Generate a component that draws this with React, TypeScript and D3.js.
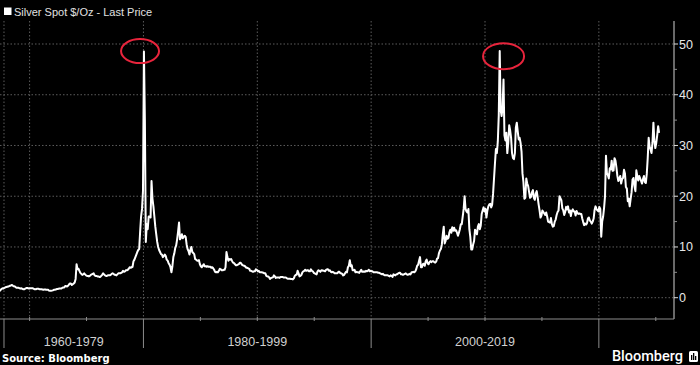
import React, { useEffect, useRef } from 'react';
import * as d3 from 'd3';

// monthly silver spot, $/oz. first block starts May 1967, the rest start in January
const price1960s = [
  1.29, 1.55, 1.75, 1.85, 1.8, 1.95, 2.05, 2.1,
  2.15, 2.2, 2.3, 2.35, 2.45, 2.5, 2.35, 2.25, 2.2, 2.05, 1.95, 1.95,
  1.95, 1.85, 1.8, 1.85, 1.75, 1.65, 1.65, 1.8, 1.9, 1.9, 1.85, 1.8,
];
const price1970s = [
  1.85, 1.85, 1.85, 1.85, 1.75, 1.65, 1.65, 1.75, 1.75, 1.75, 1.65, 1.65,
  1.65, 1.6, 1.55, 1.6, 1.6, 1.55, 1.55, 1.55, 1.4, 1.35, 1.35, 1.4,
  1.45, 1.55, 1.55, 1.6, 1.7, 1.7, 1.75, 1.8, 1.8, 1.8, 1.95, 2.0,
  2.0, 2.3, 2.3, 2.2, 2.35, 2.6, 2.8, 2.8, 2.5, 2.65, 2.8, 3.0,
  3.7, 6.6, 5.6, 5.7, 5.3, 4.9, 4.7, 4.5, 4.6, 4.8, 4.6, 4.4,
  4.3, 4.3, 4.2, 4.3, 4.5, 4.6, 4.7, 4.8, 4.4, 4.3, 4.3, 4.2,
  4.2, 4.1, 4.1, 4.3, 4.5, 4.8, 4.6, 4.4, 4.3, 4.3, 4.4, 4.4,
  4.4, 4.5, 4.7, 4.8, 4.7, 4.5, 4.5, 4.4, 4.6, 4.8, 4.8, 4.8,
  4.9, 5.0, 5.3, 5.1, 5.2, 5.4, 5.4, 5.5, 5.7, 6.0, 5.9, 6.0,
  6.1, 7.2, 7.5, 8.0, 8.5, 9.0, 9.4, 9.6, 13.0, 16.0, 17.5, 21.0,
];
const price1980s = [
  48.5, 35.0, 11.0, 14.5, 13.5, 16.0, 16.0, 15.8, 23.0, 19.5, 18.0, 16.0,
  14.0, 12.5, 11.0, 10.0, 9.4, 9.0, 8.6, 8.5, 8.0, 8.2, 8.5, 8.2,
  7.5, 7.3, 6.8, 6.5, 6.0, 5.0, 6.2, 8.0, 8.7, 9.8, 10.3, 11.5,
  13.0, 14.8, 11.5, 11.8, 12.5, 11.7, 12.0, 12.2, 12.0, 10.5, 9.6, 9.2,
  8.5, 9.5, 10.0, 9.0, 8.8, 8.6, 7.6, 7.5, 7.3, 7.3, 7.4, 6.6,
  6.2, 6.0, 6.3, 6.6, 6.2, 6.2, 6.1, 6.2, 6.1, 6.1, 6.1, 5.9,
  6.0, 5.8, 5.5, 5.1, 5.0, 5.1, 5.0, 5.3, 5.7, 5.6, 5.4, 5.4,
  5.5, 5.5, 6.0, 9.0, 8.0, 7.3, 7.6, 7.5, 7.6, 7.2, 6.9, 6.8,
  6.6, 6.4, 6.4, 6.5, 6.6, 6.9, 6.9, 6.6, 6.4, 6.3, 6.3, 6.1,
  5.9, 5.9, 5.8, 5.7, 5.3, 5.3, 5.2, 5.1, 5.2, 5.2, 5.6, 5.5,
];
const price1990s = [
  5.2, 5.3, 5.0, 5.0, 5.0, 4.95, 4.9, 4.8, 4.8, 4.3, 4.2, 4.2,
  4.0, 3.7, 3.9, 3.95, 4.0, 4.4, 4.2, 3.9, 4.0, 4.0, 4.0, 3.9,
  4.1, 4.1, 4.1, 4.0, 4.0, 4.0, 3.95, 3.8, 3.75, 3.75, 3.75, 3.7,
  3.7, 3.6, 3.8, 4.3, 4.5, 4.5, 5.3, 4.8, 4.2, 4.3, 4.5, 5.0,
  5.2, 5.3, 5.5, 5.3, 5.4, 5.4, 5.2, 5.2, 5.6, 5.3, 5.2, 4.9,
  4.8, 4.7, 4.6, 5.2, 5.4, 5.3, 5.1, 5.4, 5.4, 5.3, 5.3, 5.2,
  5.5, 5.6, 5.6, 5.3, 5.4, 5.1, 5.0, 5.1, 5.0, 4.8, 4.8, 4.8,
  4.8, 5.1, 5.1, 4.8, 4.8, 4.7, 4.4, 4.5, 4.8, 5.1, 5.0, 6.0,
  6.3, 7.4, 6.2, 6.4, 5.4, 5.4, 5.5, 5.0, 5.1, 5.0, 5.0, 4.9,
  5.2, 5.5, 5.1, 5.1, 5.2, 5.1, 5.3, 5.2, 5.3, 5.5, 5.2, 5.3,
];
const price2000s = [
  5.2, 5.2, 5.0, 5.0, 5.0, 5.0, 5.0, 4.9, 4.9, 4.8, 4.7, 4.6,
  4.7, 4.5, 4.4, 4.4, 4.4, 4.4, 4.3, 4.2, 4.4, 4.3, 4.1, 4.6,
  4.5, 4.4, 4.6, 4.6, 4.8, 4.9, 4.9, 4.6, 4.6, 4.5, 4.6, 4.7,
  4.8, 4.6, 4.5, 4.6, 4.7, 4.6, 5.0, 5.0, 5.1, 5.0, 5.2, 5.6,
  6.3, 6.5, 7.3, 8.0, 6.0, 6.0, 6.6, 6.7, 6.3, 7.2, 7.5, 6.8,
  6.6, 7.0, 7.2, 7.0, 7.2, 7.2, 7.0, 6.9, 7.1, 7.7, 7.8, 8.8,
  9.3, 9.6, 10.5, 12.5, 14.0, 10.7, 11.2, 12.2, 11.6, 11.8, 12.9, 13.4,
  12.8, 13.9, 13.2, 13.8, 13.2, 13.3, 12.8, 12.2, 12.8, 13.5, 14.5, 14.5,
  16.0, 17.5, 20.0, 17.5, 17.0, 16.8, 17.5, 13.5, 12.0, 9.5, 9.5, 10.5,
  11.2, 13.4, 13.0, 12.5, 14.0, 14.5, 13.5, 14.2, 16.5, 17.2, 17.8, 17.0,
];
const price2010s = [
  17.5, 15.8, 17.2, 18.0, 18.4, 18.5, 17.8, 18.3, 20.5, 23.5, 26.5, 29.3,
  28.5, 30.8, 35.9, 48.6, 37.0, 35.8, 37.5, 43.0, 32.0, 31.0, 32.5, 28.5,
  30.5, 34.0, 33.0, 31.5, 28.5, 27.5, 27.3, 28.5, 33.5, 34.5, 32.8, 31.2,
  31.5, 30.5, 28.8, 24.5, 22.8, 19.5, 19.7, 23.5, 22.5, 22.0, 20.8, 19.7,
  19.9, 20.8, 21.2, 19.7, 19.3, 20.5, 21.0, 19.8, 18.4, 17.2, 15.8, 16.2,
  17.2, 16.9, 16.6, 16.3, 16.8, 16.0, 15.0, 14.9, 14.8, 15.7, 14.5, 14.0,
  14.1, 15.0, 15.4, 16.3, 16.9, 17.2, 20.0, 19.6, 19.2, 17.6, 17.2, 16.3,
  16.9, 17.9, 17.4, 18.0, 16.8, 17.2, 16.1, 17.1, 17.4, 17.0, 17.0, 16.2,
  17.1, 16.6, 16.5, 16.6, 16.5, 16.5, 15.6, 14.9, 14.3, 14.6, 14.4, 14.7,
  15.6, 15.8, 15.2, 15.0, 14.6, 15.0, 15.6, 17.3, 18.0, 17.5, 17.2, 17.0,
];
const price2020s = [
  17.9, 17.5, 12.0, 15.0, 16.0, 17.7, 20.0, 28.0, 24.5, 24.2, 23.5, 25.5,
  25.3, 27.0, 25.0, 25.1, 27.5, 27.0, 25.7, 24.0, 23.0, 23.4, 24.0, 22.5,
  23.4, 23.6, 25.2, 24.5, 21.8, 21.5, 19.0, 19.5, 18.0, 19.5, 20.8, 23.3,
  23.6, 22.0, 21.0, 25.1, 24.0, 23.1, 24.0, 23.5, 23.0, 22.5, 23.4, 24.0,
  22.8, 22.6, 24.4, 27.5, 31.5, 29.8, 29.2, 28.5, 30.5, 34.5, 31.0, 29.5,
  30.5, 32.0, 33.8, 32.5,
];
const blockStarts = [1967 + 4 / 12, 1970, 1980, 1990, 2000, 2010, 2020];

const seriesLabel = 'Silver Spot $/Oz - Last Price';
const periodLabels = ['1960-1979', '1980-1999', '2000-2019'];
const periodBreaks = [1967.75, 1980, 2000, 2020];
const gridYears = [1970, 1980, 1990, 2000, 2010, 2020];
const minorYears = [1970, 1975, 1985, 1990, 1995, 2005, 2010, 2015, 2025];
const yTicks = [0, 10, 20, 30, 40, 50];
const yMinorTicks = [5, 15, 25, 35, 45];
// the two circled highs (year, price)
const circled = [
  [1979.7, 48.6],
  [2011.63, 47.6],
];

interface Point {
  t: number;
  v: number;
}

const App: React.FC = () => {
  const svgRef = useRef<SVGSVGElement>(null);

  useEffect(() => {
    const svg = d3.select(svgRef.current!);
    svg.selectAll('*').remove();

    const width = 700;
    const height = 365;
    const axisX = 674;
    const axisY = 319;
    const plotTop = 21;

    const x = d3.scaleLinear().domain([1967.4, 2026.6]).range([0, axisX]);
    const y = d3.scaleLinear().domain([0, 50]).range([297.7, 44]);

    const blocks = [price1960s, price1970s, price1980s, price1990s, price2000s, price2010s, price2020s];
    const data: Point[] = [];
    blocks.forEach((arr, b) => {
      arr.forEach((v, i) => data.push({ t: blockStarts[b] + (i + 0.5) / 12, v }));
    });

    svg.append('rect').attr('width', width).attr('height', height).attr('fill', '#000');

    // gridlines
    const grid = svg.append('g').attr('stroke', '#5c5c5c').attr('stroke-dasharray', '1.5,2');
    grid
      .selectAll('.hgrid')
      .data(yTicks)
      .enter()
      .append('line')
      .attr('x1', 0)
      .attr('x2', axisX)
      .attr('y1', (d) => y(d))
      .attr('y2', (d) => y(d));
    grid
      .selectAll('.vgrid')
      .data([periodBreaks[0], ...gridYears])
      .enter()
      .append('line')
      .attr('x1', (d) => x(d))
      .attr('x2', (d) => x(d))
      .attr('y1', plotTop)
      .attr('y2', axisY);

    // price line
    const line = d3
      .line<Point>()
      .x((d) => x(d.t))
      .y((d) => y(d.v));
    svg
      .append('path')
      .datum(data)
      .attr('d', line)
      .attr('fill', 'none')
      .attr('stroke', '#fff')
      .attr('stroke-width', 2)
      .attr('stroke-linejoin', 'round');

    // circled highs
    svg
      .selectAll('.ring')
      .data(circled)
      .enter()
      .append('ellipse')
      .attr('cx', (d) => x(d[0]))
      .attr('cy', (d) => y(d[1]))
      .attr('rx', (d, i) => (i === 0 ? 19 : 20.5))
      .attr('ry', (d, i) => (i === 0 ? 12 : 13))
      .attr('fill', 'none')
      .attr('stroke', '#e8243c')
      .attr('stroke-width', 2);

    // right axis
    const axisColor = '#8c8c8c';
    svg
      .append('line')
      .attr('x1', axisX)
      .attr('x2', axisX)
      .attr('y1', plotTop)
      .attr('y2', axisY)
      .attr('stroke', axisColor)
      .attr('stroke-width', 1.5);
    svg
      .selectAll('.ytick')
      .data(yTicks)
      .enter()
      .append('line')
      .attr('x1', axisX)
      .attr('x2', axisX + 4)
      .attr('y1', (d) => y(d))
      .attr('y2', (d) => y(d))
      .attr('stroke', '#ddd');
    svg
      .selectAll('.yminor')
      .data(yMinorTicks)
      .enter()
      .append('line')
      .attr('x1', axisX)
      .attr('x2', axisX + 3)
      .attr('y1', (d) => y(d))
      .attr('y2', (d) => y(d))
      .attr('stroke', axisColor);
    svg
      .selectAll('.ylabel')
      .data(yTicks)
      .enter()
      .append('text')
      .attr('x', axisX + 5)
      .attr('y', (d) => y(d))
      .attr('dy', '0.36em')
      .attr('fill', '#e8e8e8')
      .attr('font-family', 'Liberation Sans, Arial, sans-serif')
      .attr('font-size', 12.5)
      .text((d) => d);

    // bottom axis
    svg
      .append('line')
      .attr('x1', 0)
      .attr('x2', axisX)
      .attr('y1', axisY)
      .attr('y2', axisY)
      .attr('stroke', axisColor);
    svg
      .selectAll('.xminor')
      .data(minorYears)
      .enter()
      .append('line')
      .attr('x1', (d) => x(d))
      .attr('x2', (d) => x(d))
      .attr('y1', axisY - 2)
      .attr('y2', axisY + 2)
      .attr('stroke', axisColor);
    svg
      .selectAll('.sep')
      .data(periodBreaks)
      .enter()
      .append('line')
      .attr('x1', (d) => x(d))
      .attr('x2', (d) => x(d))
      .attr('y1', axisY)
      .attr('y2', 348)
      .attr('stroke', axisColor);
    svg
      .selectAll('.period')
      .data(periodLabels)
      .enter()
      .append('text')
      .attr('x', (d, i) => (x(periodBreaks[i]) + x(periodBreaks[i + 1])) / 2)
      .attr('y', 346)
      .attr('text-anchor', 'middle')
      .attr('fill', '#d0d0d0')
      .attr('font-family', 'Liberation Sans, Arial, sans-serif')
      .attr('font-size', 12.5)
      .text((d) => d);

    // legend
    svg.append('rect').attr('x', 4).attr('y', 7.5).attr('width', 7.5).attr('height', 7.5).attr('fill', '#fff');
    svg
      .append('text')
      .attr('x', 14)
      .attr('y', 15.5)
      .attr('fill', '#e0e0e0')
      .attr('font-family', 'Liberation Sans, Arial, sans-serif')
      .attr('font-size', 11)
      .text(seriesLabel);

    // footer
    svg
      .append('text')
      .attr('x', 2)
      .attr('y', 362)
      .attr('fill', '#fff')
      .attr('font-family', 'DejaVu Sans, sans-serif')
      .attr('font-weight', 'bold')
      .attr('font-size', 10)
      .text('Source: Bloomberg');
    svg
      .append('text')
      .attr('x', 683)
      .attr('y', 361)
      .attr('text-anchor', 'end')
      .attr('fill', '#fff')
      .attr('font-family', 'Roboto, sans-serif')
      .attr('font-weight', 500)
      .attr('font-size', 14.5)
      .text('Bloomberg');
    const logo = svg.append('g').attr('transform', 'translate(689,351)');
    logo.append('rect').attr('width', 9).attr('height', 11).attr('rx', 1.5).attr('fill', '#fff');
    logo.append('rect').attr('x', 2).attr('y', 4).attr('width', 1.3).attr('height', 5).attr('fill', '#000');
    logo.append('rect').attr('x', 4).attr('y', 2).attr('width', 1.3).attr('height', 7).attr('fill', '#000');
    logo.append('rect').attr('x', 6).attr('y', 5).attr('width', 1.3).attr('height', 4).attr('fill', '#000');
  }, []);

  return (
    <svg
      ref={svgRef}
      width={700}
      height={365}
      style={{ position: 'absolute', left: 0, top: 0, display: 'block' }}
    />
  );
};

export default App;
